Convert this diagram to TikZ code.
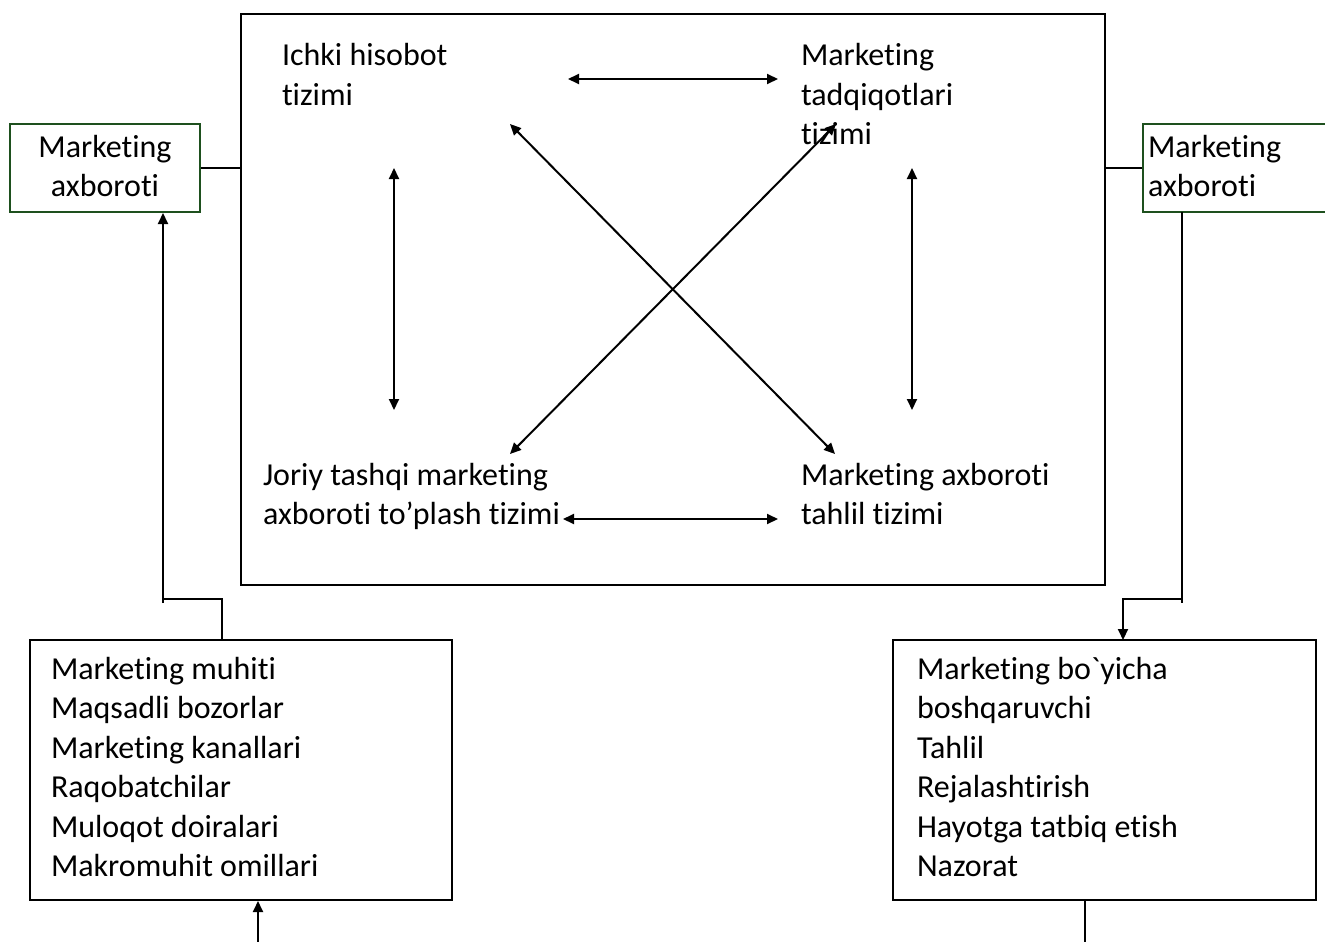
\documentclass[tikz,border=0pt]{standalone}
\usepackage{fontspec}
\setmainfont{Carlito}[Ligatures={TeXOff,NoCommon}]
\usetikzlibrary{arrows.meta}
\definecolor{boxgreen}{RGB}{30,80,30}
\newcommand{\txtl}[1]{\begin{tabular}[t]{@{}l@{}}#1\end{tabular}}
\newcommand{\txtc}[1]{\begin{tabular}[t]{@{}c@{}}#1\end{tabular}}
\begin{document}
\begin{tikzpicture}[x=1pt,y=-1pt,
  line width=2pt,
  dbl/.style={{Triangle[length=11pt,width=10pt]}-{Triangle[length=11pt,width=10pt]}},
  one/.style={-{Triangle[length=11pt,width=10pt]}},
  frame/.style={draw, line width=2pt, inner sep=0pt},
  greenbox/.style={draw=boxgreen, line width=2pt, inner sep=0pt},
  label/.style={anchor=base west, inner sep=0pt, font=\fontsize{32}{39.5}\selectfont}]
\useasboundingbox (0,0) rectangle (1325,942);
\clip (0,0) rectangle (1325,942);

% frames
\node[frame, minimum width=864pt, minimum height=571pt] (main) at (673,299.5) {};
\node[greenbox, minimum width=190pt, minimum height=88pt] (lg) at (105,168) {};
\node[greenbox, minimum width=202pt, minimum height=88pt] (rg) at (1244,168) {};
\node[frame, minimum width=422pt, minimum height=260pt] (bl) at (241,770) {};
\node[frame, minimum width=423pt, minimum height=260pt] (br) at (1104.5,770) {};

% texts
\node[label, anchor=base] (lgt) at (105,157) {\txtc{Marketing\\axboroti}};
\node[label] (rgt) at (1147,157) {\txtl{Marketing\\axboroti}};
\node[label] (ichki) at (281,66) {\txtl{Ichki hisobot\\tizimi}};
\node[label] (tadq) at (800,66) {\txtl{Marketing\\tadqiqotlari\\tizimi}};
\node[label] (joriy) at (262,485) {\txtl{Joriy tashqi marketing\\axboroti to’plash tizimi}};
\node[label] (tahlil) at (800,485) {\txtl{Marketing axboroti\\tahlil tizimi}};
\node[label] (muhit) at (50,679) {\txtl{Marketing muhiti\\Maqsadli bozorlar\\Marketing kanallari\\Raqobatchilar\\Muloqot doiralari\\Makromuhit omillari}};
\node[label] (boshq) at (916,679) {\txtl{Marketing bo`yicha\\boshqaruvchi\\Tahlil\\Rejalashtirish\\Hayotga tatbiq etish\\Nazorat}};

% arrow end points inside the main frame
\coordinate (t1) at (568,79);  \coordinate (t2) at (778,79);
\coordinate (b1) at (563,519); \coordinate (b2) at (778,519);
\coordinate (l1) at (394,168); \coordinate (l2) at (394,410);
\coordinate (r1) at (912,168); \coordinate (r2) at (912,410);
\coordinate (d1) at (510,124); \coordinate (d2) at (835,454);
\coordinate (e1) at (836,124); \coordinate (e2) at (510,454);

\draw[dbl] (t1) -- (t2);
\draw[dbl] (b1) -- (b2);
\draw[dbl] (l1) -- (l2);
\draw[dbl] (r1) -- (r2);
\draw[dbl] (d1) -- (d2);
\draw[dbl] (e1) -- (e2);

% links between the frames
\draw (lg.east) -- (main.west |- lg.east);
\draw (rg.west) -- (main.east |- rg.west);

\coordinate (lfoot) at (163,603);
\coordinate (lbend) at (163,599);
\coordinate (lup) at (222,640);
\draw (lup) |- (lbend);
\draw[one] (lfoot) -- (lg.south -| lfoot);

\coordinate (rtop) at (1182,212);
\coordinate (rfoot) at (1182,603);
\coordinate (rbend) at (1123,599);
\coordinate (rdown) at (1123,640);
\draw (rtop) -- (rfoot);
\draw[one] (rfoot |- rbend) -| (rdown);

\coordinate (lin) at (258,942);
\draw[one] (lin) -- (bl.south -| lin);
\coordinate (rout) at (1085,942);
\draw (br.south -| rout) -- (rout);
\end{tikzpicture}
\end{document}
